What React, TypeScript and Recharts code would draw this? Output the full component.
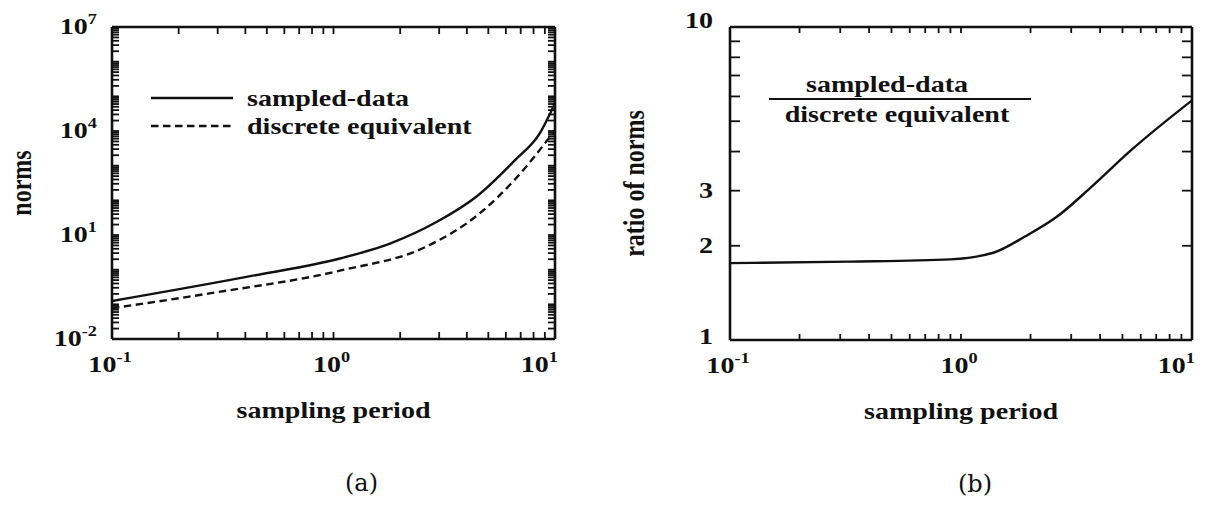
import React from "react";
import { LineChart, Line, XAxis, YAxis, Label, Legend } from "recharts";

const FONT = "'Liberation Serif', 'Times New Roman', serif";
const TAG_FONT = "'DejaVu Serif', serif";
const INK = "#111";
const DASH = "7.5 4.5";
const SX = 1.22; // the scanned figure is stretched sideways

// panel (a): norms vs sampling period
const sdPeriod = [0.1, 0.41, 1.08, 1.81, 2.93, 4.41, 6.6, 8.55, 10];
const sdNorm = [0.125, 0.63, 2.13, 5.75, 24, 127, 1450, 8700, 63000];
const dePeriod = [0.1, 0.28, 1.08, 2.62, 4.57, 6.64, 10];
const deNorm = [0.077, 0.21, 0.95, 4.6, 42, 420, 10500];

// panel (b): ratio of the two norms
const ratioPeriod = [0.1, 0.33, 0.9, 1.38, 1.89, 2.59, 3.68, 5.45, 10];
const ratioValue = [1.76, 1.78, 1.81, 1.9, 2.14, 2.47, 3.09, 4.04, 5.83];

const SD_NAME = "sampled-data";
const DE_NAME = "discrete equivalent";

// tick marks
const MANTISSA = [1, 2, 3, 4, 5, 6, 7, 8, 9];
const PERIOD_DECADES = [0.1, 1];
const NORM_DECADES = [1e-2, 1e-1, 1, 10, 100, 1e3, 1e4, 1e5, 1e6];
const RATIO_TICKS = [1, 2, 3, 4, 5, 6, 7, 8, 9, 10];
const PERIOD_LABELS = [0.1, 1, 10];
const NORM_LABELS = [1e-2, 10, 1e4, 1e7];
const RATIO_LABELS = [1, 2, 3, 10];

const expand = (decades: number[], top: number) => [
  ...decades.flatMap((d) => MANTISSA.map((m) => +(m * d).toPrecision(6))),
  top,
];
const periodTicks = expand(PERIOD_DECADES, 10);
const normTicks = expand(NORM_DECADES, 1e7);

const sdRows = sdPeriod.map((t, i) => ({ t, v: sdNorm[i] }));
const deRows = dePeriod.map((t, i) => ({ t, v: deNorm[i] }));
const ratioRows = ratioPeriod.map((t, i) => ({ t, v: ratioValue[i] }));

const has = (list: number[], v: number) => list.some((l) => Math.abs(l - v) / l < 1e-6);
const exp10 = (v: number) => Math.round(Math.log10(v));

const AXIS_LINE = { stroke: INK, strokeWidth: 2.6 };

type Anchor = "start" | "middle" | "end";

function Wide({
  x,
  y,
  anchor = "start",
  size = 23,
  children,
}: {
  x: number;
  y: number;
  anchor?: Anchor;
  size?: number;
  children: React.ReactNode;
}) {
  return (
    <text
      transform={`translate(${x} ${y}) scale(${SX} 1)`}
      textAnchor={anchor}
      fontFamily={FONT}
      fontWeight="bold"
      fontSize={size}
      fill={INK}
    >
      {children}
    </text>
  );
}

type Side = "bottom" | "top" | "left" | "right";

function mark(side: Side, len: number, label?: (v: number, x: number, y: number) => React.ReactNode) {
  return (props: any) => {
    const { x, y, payload } = props;
    const v = payload.value;
    let x2 = x;
    let y2 = y;
    if (side === "bottom") y2 = y - len;
    if (side === "top") y2 = y + len;
    if (side === "left") x2 = x + len;
    if (side === "right") x2 = x - len;
    return (
      <g>
        <line x1={x} y1={y} x2={x2} y2={y2} stroke={INK} strokeWidth={1.8} />
        {label ? label(v, x, y) : null}
      </g>
    );
  };
}

const power = (v: number, x: number, y: number, anchor: Anchor) => (
  <Wide x={x} y={y} anchor={anchor}>
    10
    <tspan fontSize={15} dy={-10}>
      {exp10(v)}
    </tspan>
  </Wide>
);

const periodLabel = (v: number, x: number, y: number) => {
  if (!has(PERIOD_LABELS, v)) return null;
  if (v >= 10) return power(v, x + 3, y + 33, "end");
  return power(v, x - 2, y + 33, "middle");
};

const normLabel = (v: number, x: number, y: number) =>
  has(NORM_LABELS, v) ? power(v, x - 15, y + 7, "end") : null;

const ratioLabel = (v: number, x: number, y: number) =>
  has(RATIO_LABELS, v) ? (
    <Wide x={x - 17} y={y + (v === 10 ? 1 : v === 1 ? 4 : 7)} anchor="end">
      {v}
    </Wide>
  ) : null;

const bottomTitle = (tag: string, tagShift: number) => (props: any) => {
  const vb = props.viewBox ?? {};
  const cx = (vb.x ?? 0) + (vb.width ?? 0) / 2;
  const top = vb.y ?? 0;
  return (
    <g>
      <Wide x={cx} y={top + 79} anchor="middle">
        sampling period
      </Wide>
      <text x={cx + tagShift} y={top + 152} textAnchor="middle" fontFamily={TAG_FONT} fontSize={24} fill={INK}>
        {tag}
      </text>
    </g>
  );
};

const sideTitle = (text: string, cx: number) => (props: any) => {
  const vb = props.viewBox ?? {};
  const cy = (vb.y ?? 0) + (vb.height ?? 0) / 2;
  return (
    <text
      transform={`translate(${cx} ${cy}) rotate(-90) scale(1 ${SX})`}
      textAnchor="middle"
      dominantBaseline="central"
      fontFamily={FONT}
      fontWeight="bold"
      fontSize={24}
      fill={INK}
    >
      {text}
    </text>
  );
};

const NormsLegend = (props: any) => {
  const items = [SD_NAME, DE_NAME]
    .map((n) => (props.payload ?? []).find((p: any) => p.value === n))
    .filter(Boolean);
  return (
    <svg width={340} height={60} style={{ display: "block", overflow: "visible" }}>
      {items.map((e: any, i: number) => (
        <g key={String(e.value)} transform={`translate(0, ${i * 28})`}>
          <line
            x1={0}
            x2={82}
            y1={10}
            y2={10}
            stroke={INK}
            strokeWidth={2.4}
            strokeDasharray={e.value === DE_NAME ? DASH : undefined}
          />
          <Wide x={96} y={18}>
            {e.value}
          </Wide>
        </g>
      ))}
    </svg>
  );
};

const RatioLegend = () => (
  <svg width={262} height={60} style={{ display: "block", overflow: "visible" }}>
    <Wide x={118} y={22} anchor="middle">
      {SD_NAME}
    </Wide>
    <line x1={0} x2={262} y1={29} y2={29} stroke={INK} strokeWidth={2} />
    <Wide x={128} y={52} anchor="middle">
      {DE_NAME}
    </Wide>
  </svg>
);

function NormsChart() {
  return (
    <LineChart width={600} height={505} margin={{ top: 0, right: 0, bottom: 0, left: 0 }}>
      <XAxis
        xAxisId="b"
        dataKey="t"
        type="number"
        scale="log"
        domain={[0.1, 10]}
        allowDataOverflow
        ticks={periodTicks}
        interval={0}
        height={166}
        tickSize={0}
        tickMargin={0}
        axisLine={AXIS_LINE}
        tickLine={false}
        tick={mark("bottom", 7, periodLabel)}
      >
        <Label content={bottomTitle("(a)", 28)} />
      </XAxis>
      <XAxis
        xAxisId="t"
        orientation="top"
        dataKey="t"
        type="number"
        scale="log"
        domain={[0.1, 10]}
        allowDataOverflow
        ticks={periodTicks}
        interval={0}
        height={27}
        tickSize={0}
        tickMargin={0}
        axisLine={AXIS_LINE}
        tickLine={false}
        tick={mark("top", 7)}
      />
      <YAxis
        yAxisId="l"
        type="number"
        scale="log"
        domain={[1e-2, 1e7]}
        allowDataOverflow
        ticks={normTicks}
        interval={0}
        width={112}
        tickSize={0}
        tickMargin={0}
        axisLine={AXIS_LINE}
        tickLine={false}
        tick={mark("left", 7, normLabel)}
      >
        <Label content={sideTitle("norms", 21)} />
      </YAxis>
      <YAxis
        yAxisId="r"
        orientation="right"
        type="number"
        scale="log"
        domain={[1e-2, 1e7]}
        allowDataOverflow
        ticks={normTicks}
        interval={0}
        width={45}
        tickSize={0}
        tickMargin={0}
        axisLine={AXIS_LINE}
        tickLine={false}
        tick={mark("right", 7)}
      />
      <Legend
        layout="vertical"
        align="center"
        verticalAlign="middle"
        content={NormsLegend}
        wrapperStyle={{ left: 151, top: 88, width: 340, height: 60 }}
      />
      <Line
        xAxisId="b"
        yAxisId="l"
        data={sdRows}
        dataKey="v"
        name={SD_NAME}
        type="monotone"
        stroke={INK}
        strokeWidth={2.4}
        dot={false}
        isAnimationActive={false}
      />
      <Line
        xAxisId="b"
        yAxisId="l"
        data={deRows}
        dataKey="v"
        name={DE_NAME}
        type="monotone"
        stroke={INK}
        strokeWidth={2.4}
        strokeDasharray={DASH}
        dot={false}
        isAnimationActive={false}
      />
    </LineChart>
  );
}

function RatioChart() {
  return (
    <LineChart width={613} height={505} margin={{ top: 0, right: 0, bottom: 0, left: 0 }}>
      <XAxis
        xAxisId="b"
        dataKey="t"
        type="number"
        scale="log"
        domain={[0.1, 10]}
        allowDataOverflow
        ticks={periodTicks}
        interval={0}
        height={165}
        tickSize={0}
        tickMargin={0}
        axisLine={AXIS_LINE}
        tickLine={false}
        tick={mark("bottom", 6, periodLabel)}
      >
        <Label content={bottomTitle("(b)", 14)} />
      </XAxis>
      <XAxis
        xAxisId="t"
        orientation="top"
        dataKey="t"
        type="number"
        scale="log"
        domain={[0.1, 10]}
        allowDataOverflow
        ticks={periodTicks}
        interval={0}
        height={27}
        tickSize={0}
        tickMargin={0}
        axisLine={AXIS_LINE}
        tickLine={false}
        tick={mark("top", 6)}
      />
      <YAxis
        yAxisId="l"
        type="number"
        scale="log"
        domain={[1, 10]}
        allowDataOverflow
        ticks={RATIO_TICKS}
        interval={0}
        width={130}
        tickSize={0}
        tickMargin={0}
        axisLine={AXIS_LINE}
        tickLine={false}
        tick={mark("left", 10, ratioLabel)}
      >
        <Label content={sideTitle("ratio of norms", 34)} />
      </YAxis>
      <YAxis
        yAxisId="r"
        orientation="right"
        type="number"
        scale="log"
        domain={[1, 10]}
        allowDataOverflow
        ticks={RATIO_TICKS}
        interval={0}
        width={21}
        tickSize={0}
        tickMargin={0}
        axisLine={AXIS_LINE}
        tickLine={false}
        tick={mark("right", 10)}
      />
      <Legend
        layout="vertical"
        align="center"
        verticalAlign="middle"
        content={RatioLegend}
        wrapperStyle={{ left: 169, top: 70, width: 262, height: 60 }}
      />
      <Line
        xAxisId="b"
        yAxisId="l"
        data={ratioRows}
        dataKey="v"
        name={`${SD_NAME} / ${DE_NAME}`}
        type="monotone"
        stroke={INK}
        strokeWidth={2.4}
        dot={false}
        isAnimationActive={false}
      />
    </LineChart>
  );
}

export default function App() {
  return (
    <div style={{ position: "absolute", left: 0, top: 0, width: 1213, height: 505, background: "#fff" }}>
      <div style={{ position: "absolute", left: 0, top: 0 }}>
        <NormsChart />
      </div>
      <div style={{ position: "absolute", left: 600, top: 0 }}>
        <RatioChart />
      </div>
    </div>
  );
}
